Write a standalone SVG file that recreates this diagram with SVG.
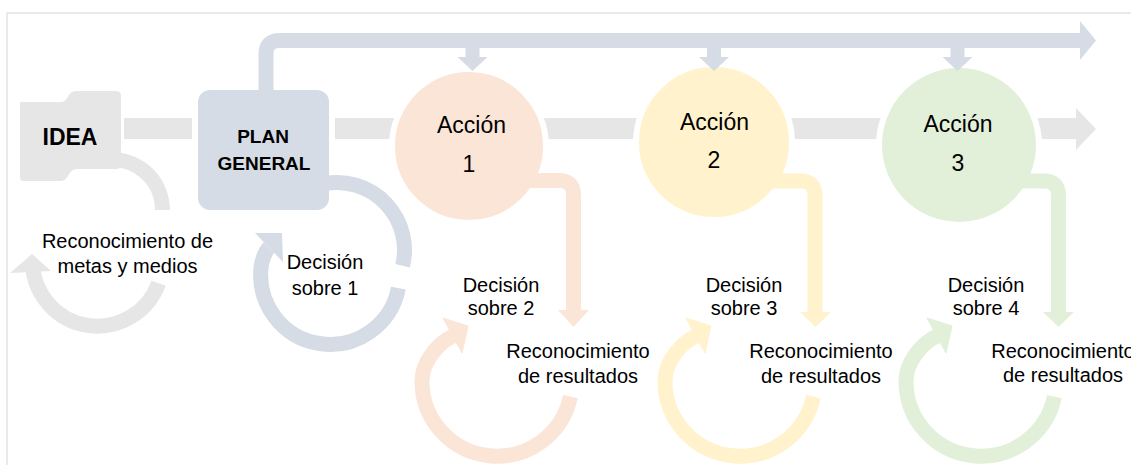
<svg xmlns="http://www.w3.org/2000/svg" width="1131" height="465" viewBox="0 0 1131 465">
<style>
text{font-family:"Liberation Sans",Arial,sans-serif;fill:#000;text-anchor:middle}
.lbl{font-size:20px}
.act{font-size:23px}
.bold{font-weight:bold}
.gray{fill:#e7e6e6}
.blue{fill:#d6dce5}
.peach{fill:#fbe5d6}
.yel{fill:#fff2cc}
.grn{fill:#e2f0d9}
.node{stroke:#fff;stroke-width:6}
.ln{fill:none;stroke-width:15;stroke-linecap:butt}
</style>
<defs>
<g id="loop">
<path class="ln" d="M570.4,396.6 A75,75 0 0 1 422,381 C422,362 438,343 453,336"/>
<polygon points="443,318 468,326 462,353"/>
</g>
</defs>
<rect x="7" y="13" width="1200" height="500" fill="none" stroke="#e3e3e3" stroke-width="1.5"/>
<g id="flow-bar">
<rect class="gray" x="115" y="118" width="963" height="21"/>
<polygon class="gray" points="1076,108 1096,129 1076,150"/>
</g>
<g id="idea">
<path class="gray node" d="M20,102 L60,102 C70,102 66,91 77,91 L116,91 Q121,91 121,96 L121,164 Q121,169 116,169 L78,169 C67,169 70,181 60,181 L24,181 Q20,181 20,177 Z"/>
<path class="gray" d="M20,102 L60,102 C70,102 66,91 77,91 L116,91 Q121,91 121,96 L121,164 Q121,169 116,169 L78,169 C67,169 70,181 60,181 L24,181 Q20,181 20,177 Z"/>
<text class="bold" x="70" y="145" font-size="23">IDEA</text>
</g>
<g id="plan-general">
<rect class="blue node" x="195" y="87" width="137" height="126" rx="15"/>
<text class="bold" x="263" y="143" font-size="19">PLAN</text>
<text class="bold" x="264" y="170" font-size="19">GENERAL</text>
</g>
<g id="accion-1">
<circle class="peach node" cx="469" cy="146" r="77"/>
<text class="act" x="471.5" y="133">Acción</text>
<text class="act" x="469" y="172">1</text>
</g>
<g id="accion-2">
<circle class="yel node" cx="714" cy="142" r="78"/>
<text class="act" x="714.5" y="130">Acción</text>
<text class="act" x="714" y="168">2</text>
</g>
<g id="accion-3">
<circle class="grn node" cx="959" cy="145" r="80"/>
<text class="act" x="958" y="132">Acción</text>
<text class="act" x="958" y="171">3</text>
</g>
<g id="connectors">
<g id="plan-to-actions">
<path class="ln" stroke="#d6dce5" d="M266,100 L266,54 Q266,40.5 279.5,40.5 L1081,40.5"/>
<polygon class="blue" points="1080,21 1096,40.5 1080,60"/>
<path class="blue" d="M465.5,46 h14 v11 h8 l-15,14 l-15,-14 h8 z"/>
<path class="blue" d="M707,46 h14 v11 h8 l-15,14 l-15,-14 h8 z"/>
<path class="blue" d="M950.5,46 h14 v11 h8 l-15,14 l-15,-14 h8 z"/>
</g>
<g id="loop-idea" fill="#e7e6e6" stroke="#e7e6e6">
<path class="ln" d="M103.2,160.3 A50.5,50.5 0 0 1 162.5,210"/>
<path class="ln" d="M158.6,283.2 A65,65 0 0 1 32.5,263.3"/>
<polygon stroke="none" points="10,273 51,271 32,254"/>
</g>
<g id="loop-plan" fill="#d6dce5" stroke="#d6dce5">
<path class="ln" d="M325.3,183.5 A67.5,67.5 0 0 1 402.6,265.8"/>
<path class="ln" d="M398.4,288.1 A69.5,69.5 0 0 1 261.2,266.3 C261.9,261.3 264.7,251.7 269,247.5"/>
<polygon stroke="none" points="255,233 282,233 283,262"/>
</g>
<g id="accion-1-out" fill="#fbe5d6" stroke="#fbe5d6">
<path class="ln" d="M525,180.5 L559,180.5 Q573.5,180.5 573.5,195 L573.5,311"/>
<polygon stroke="none" points="558,310 589,310 573.5,327"/>
<use href="#loop"/>
</g>
<g id="accion-2-out" fill="#fff2cc" stroke="#fff2cc">
<path class="ln" d="M770,181 L800.5,181 Q815,181 815,195.5 L815,313"/>
<polygon stroke="none" points="800,312 831,312 815.5,327"/>
<use href="#loop" transform="translate(243,0)"/>
</g>
<g id="accion-3-out" fill="#e2f0d9" stroke="#e2f0d9">
<path class="ln" d="M1010,181 L1044,181 Q1058.5,181 1058.5,195.5 L1058.5,313"/>
<polygon stroke="none" points="1043,312 1074,312 1058.5,327"/>
<use href="#loop" transform="translate(484,0)"/>
</g>
</g>
<g id="labels">
<text class="lbl" x="127.5" y="248">Reconocimiento de</text>
<text class="lbl" x="127.5" y="273">metas y medios</text>
<text class="lbl" x="325" y="269">Decisión</text>
<text class="lbl" x="325" y="295">sobre 1</text>
<text class="lbl" x="501" y="292">Decisión</text>
<text class="lbl" x="501" y="315">sobre 2</text>
<text class="lbl" x="578" y="358">Reconocimiento</text>
<text class="lbl" x="578" y="383">de resultados</text>
<text class="lbl" x="744" y="292">Decisión</text>
<text class="lbl" x="744" y="315">sobre 3</text>
<text class="lbl" x="821" y="358">Reconocimiento</text>
<text class="lbl" x="821" y="383">de resultados</text>
<text class="lbl" x="986" y="292">Decisión</text>
<text class="lbl" x="986" y="315">sobre 4</text>
<text class="lbl" x="1063" y="358">Reconocimiento</text>
<text class="lbl" x="1063" y="382">de resultados</text>
</g>
</svg>
